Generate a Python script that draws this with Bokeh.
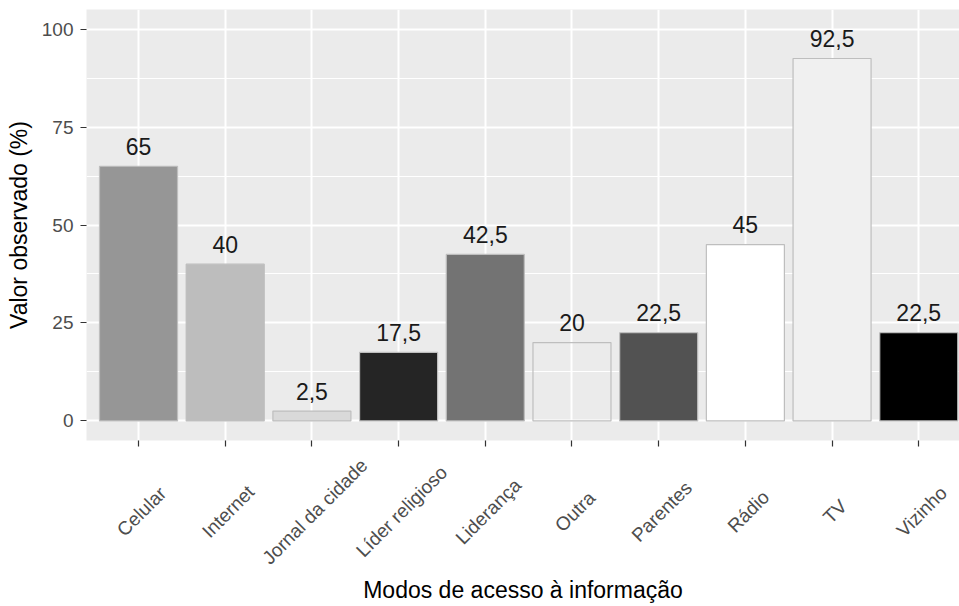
import math
from bokeh.plotting import figure
from bokeh.layouts import column
from bokeh.models import Range1d, FixedTicker, ColumnDataSource
from bokeh.embed import file_html
from bokeh.resources import INLINE
from bokeh.core.properties import value

# ---- data ----
categories = ["Celular", "Internet", "Jornal da cidade", "Líder religioso", "Liderança",
              "Outra", "Parentes", "Rádio", "TV", "Vizinho"]
values = [65, 40, 2.5, 17.5, 42.5, 20, 22.5, 45, 92.5, 22.5]
y_ticks = [0, 25, 50, 75, 100]
y_minor_ticks = [12.5, 37.5, 62.5, 87.5]

# ---- styles ----
fills = ["#969696", "#bdbdbd", "#d9d9d9", "#252525", "#737373",
         "#ebebeb", "#525252", "#ffffff", "#f0f0f0", "#000000"]
fill_alphas = [1, 1, 1, 1, 1, 0, 1, 1, 1, 1]
FONT = "Liberation Sans"

W, H = 959, 606
B_LEFT, B_TOP, B_BOTTOM = 86, 9, 12
H1 = 452                      # main chart height (panel + ticks)
H2 = H - H1                   # strip holding rotated labels and x title
B2_BOTTOM = 35
Y0, Y1 = -5, 105

xs = list(range(1, len(categories) + 1))
labels = [f"{v:g}".replace(".", ",") for v in values]
src = ColumnDataSource(dict(x=xs, top=values, fill=fills, alpha=fill_alphas, label=labels))

x_range = Range1d(0.4, 10.47)

p = figure(width=W, height=H1, output_backend="svg", toolbar_location=None,
           x_range=x_range, y_range=Range1d(Y0, Y1),
           min_border_left=B_LEFT, min_border_right=0, min_border_top=B_TOP,
           min_border_bottom=B_BOTTOM,
           background_fill_color="#ebebeb", border_fill_color="white",
           outline_line_color=None)

p.vbar(x="x", top="top", bottom=0, width=0.9, source=src,
       fill_color="fill", fill_alpha="alpha", line_color="#bebebe", line_width=1.2)

p.text(x="x", y="top", text="label", source=src, text_align="center",
       text_baseline="alphabetic", y_offset=-20, text_font=value(FONT),
       text_font_size="23px", text_color="#1a1a1a")

# grid
p.xgrid.grid_line_color = "white"
p.xgrid.grid_line_width = 2
p.ygrid.grid_line_color = "white"
p.ygrid.grid_line_width = 2
p.ygrid.minor_grid_line_color = "white"
p.ygrid.minor_grid_line_width = 1

# axes
p.yaxis.ticker = FixedTicker(ticks=y_ticks, minor_ticks=y_minor_ticks)
p.xaxis.ticker = FixedTicker(ticks=xs)
p.axis.axis_line_color = None
p.axis.major_tick_line_color = "#333333"
p.axis.major_tick_line_width = 1.2
p.axis.major_tick_out = 6
p.axis.major_tick_in = 0
p.axis.minor_tick_out = 0
p.axis.minor_tick_in = 0

p.yaxis.major_label_text_font = FONT
p.yaxis.major_label_text_font_size = "19px"
p.yaxis.major_label_text_color = "#4d4d4d"
p.yaxis.major_label_standoff = 7
p.xaxis.major_label_text_color = None
p.xaxis.major_label_standoff = 0

p.yaxis.axis_label = "Valor observado (%)"
p.yaxis.axis_label_text_font = FONT
p.yaxis.axis_label_text_font_style = "normal"
p.yaxis.axis_label_text_font_size = "23px"
p.yaxis.axis_label_text_color = "#000000"
p.yaxis.axis_label_standoff = 7

# ---- strip below the panel: rotated category labels + x-axis title ----
strip_h = H2 - B2_BOTTOM
p2 = figure(width=W, height=H2, output_backend="svg", toolbar_location=None,
            x_range=x_range, y_range=Range1d(strip_h, 0), y_axis_location=None,
            min_border_left=B_LEFT, min_border_right=0, min_border_top=0,
            min_border_bottom=B2_BOTTOM,
            background_fill_color="white", border_fill_color="white",
            outline_line_color=None)
p2.grid.visible = False

cat_src = ColumnDataSource(dict(x=xs, y=[511 - H1] * len(xs), text=categories))
p2.text(x="x", y="y", text="text", source=cat_src, angle=math.pi / 4,
        text_align="center", text_baseline="middle", x_offset=3,
        text_font=value(FONT), text_font_size="19px", text_color="#4d4d4d")

p2.xaxis.ticker = FixedTicker(ticks=[])
p2.xaxis.axis_line_color = None
p2.xaxis.major_tick_out = 0
p2.xaxis.major_tick_in = 0
p2.xaxis.minor_tick_out = 0
p2.xaxis.minor_tick_in = 0
p2.xaxis.major_label_standoff = 0
p2.xaxis.axis_label = "Modos de acesso à informação"
p2.xaxis.axis_label_text_font = FONT
p2.xaxis.axis_label_text_font_style = "normal"
p2.xaxis.axis_label_text_font_size = "23px"
p2.xaxis.axis_label_text_color = "#000000"
p2.xaxis.axis_label_standoff = 5

layout = column(p, p2, spacing=0)
open("out.html", "w").write(file_html(layout, INLINE))
